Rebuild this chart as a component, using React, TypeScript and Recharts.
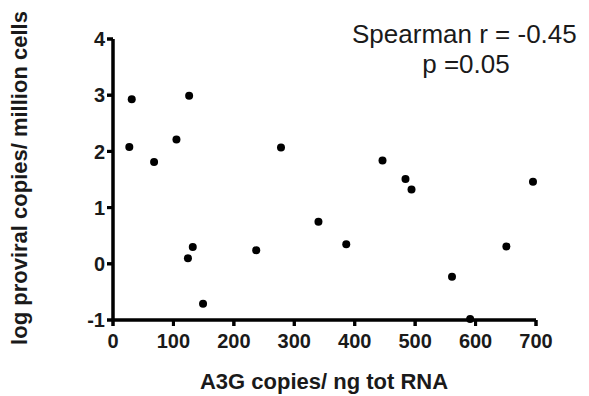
import React, { useEffect } from 'react'
import { ScatterChart, Scatter, XAxis, YAxis, ReferenceLine } from 'recharts'

const a3gCopies = [27, 31, 68, 105, 124, 126, 132, 149, 237, 278, 340, 386, 446, 484, 494, 561, 591, 651, 695]
const logProviral = [2.08, 2.93, 1.81, 2.21, 0.1, 2.99, 0.3, -0.71, 0.24, 2.07, 0.75, 0.35, 1.84, 1.51, 1.32, -0.23, -0.98, 0.31, 1.46]
const xTicks = [0, 100, 200, 300, 400, 500, 600, 700]
const yTicks = [-1, 0, 1, 2, 3, 4]

const points = a3gCopies.map((x, i) => ({ x, y: logProviral[i] }))

const FONT = '"Liberation Sans", Arial, sans-serif'
const TICK_SIZE = 6
const X_MARGIN = 8
const Y_MARGIN = 2

function Dot(props: any) {
  const { cx, cy } = props
  return <circle cx={cx} cy={cy} r={4} fill="#000" />
}

// ticks drawn by hand so the tick marks always show
function XTick(props: any) {
  const { x, y, payload } = props
  const top = y - TICK_SIZE - X_MARGIN
  return (
    <g>
      <line x1={x} x2={x} y1={top} y2={top + TICK_SIZE} stroke="#000" strokeWidth={3} />
      <text x={x} y={y} dy="0.71em" textAnchor="middle" fontSize={20} fontWeight={700} fontFamily={FONT} fill="#1a1a1a">
        {payload.value}
      </text>
    </g>
  )
}

function YTick(props: any) {
  const { x, y, payload } = props
  const right = x + TICK_SIZE + Y_MARGIN
  return (
    <g>
      <line x1={right - TICK_SIZE} x2={right} y1={y} y2={y} stroke="#000" strokeWidth={3} />
      <text x={x} y={y} dy="0.355em" textAnchor="end" fontSize={20} fontWeight={700} fontFamily={FONT} fill="#1a1a1a">
        {payload.value}
      </text>
    </g>
  )
}

const textBase: React.CSSProperties = {
  position: 'absolute',
  fontFamily: FONT,
  color: '#1a1a1a',
  whiteSpace: 'nowrap',
  pointerEvents: 'none',
}

export default function App() {
  useEffect(() => {
    document.body.style.margin = '0'
  }, [])

  return (
    <div style={{ position: 'relative', width: 589, height: 396, background: '#fff' }}>
      <ScatterChart width={589} height={396} margin={{ top: 39, right: 53, bottom: 36, left: 60 }}>
        <XAxis
          type="number"
          dataKey="x"
          domain={[0, 700]}
          ticks={xTicks}
          height={40}
          axisLine={{ stroke: '#000', strokeWidth: 3 }}
          tickLine={{ stroke: '#000', strokeWidth: 3 }}
          tickSize={TICK_SIZE}
          tickMargin={X_MARGIN}
          tick={<XTick />}
          interval={0}
        />
        <YAxis
          type="number"
          dataKey="y"
          domain={[-1, 4]}
          ticks={yTicks}
          width={53}
          axisLine={{ stroke: '#000', strokeWidth: 3 }}
          tickLine={{ stroke: '#000', strokeWidth: 3 }}
          tickSize={TICK_SIZE}
          tickMargin={Y_MARGIN}
          tick={<YTick />}
          interval={0}
        />
        <ReferenceLine
          segment={[{ x: 0, y: -1 }, { x: 700, y: -1 }]}
          stroke="#000"
          strokeWidth={3}
          ifOverflow="visible"
        />
        <ReferenceLine
          segment={[{ x: 0, y: -1 }, { x: 0, y: 4 }]}
          stroke="#000"
          strokeWidth={3}
          ifOverflow="visible"
        />
        <Scatter data={points} fill="#000" shape={<Dot />} isAnimationActive={false} />
      </ScatterChart>

      {/* stats annotation */}
      <div style={{ ...textBase, left: 352, top: 21, fontSize: 26, lineHeight: '26px' }}>Spearman r = -0.45</div>
      <div style={{ ...textBase, left: 366, top: 51, width: 200, textAlign: 'center', fontSize: 26, lineHeight: '26px' }}>
        p =0.05
      </div>

      {/* axis titles */}
      <div
        style={{
          ...textBase,
          left: -179.6,
          top: 167,
          width: 400,
          height: 22,
          textAlign: 'center',
          fontSize: 22,
          lineHeight: '22px',
          fontWeight: 700,
          transform: 'rotate(-90deg)',
          transformOrigin: '50% 50%',
        }}
      >
        log proviral copies/ million cells
      </div>
      <div
        style={{
          ...textBase,
          left: 124,
          top: 371,
          width: 400,
          textAlign: 'center',
          fontSize: 22,
          lineHeight: '22px',
          fontWeight: 700,
        }}
      >
        A3G copies/ ng tot RNA
      </div>
    </div>
  )
}
